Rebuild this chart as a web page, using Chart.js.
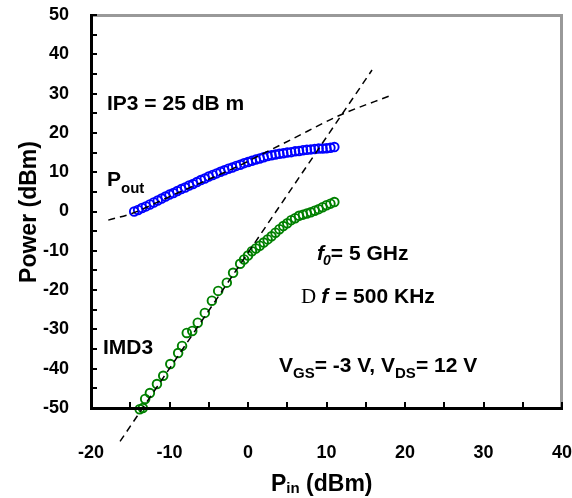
<!DOCTYPE html>
<html>
<head>
<meta charset="utf-8">
<script src="https://cdn.jsdelivr.net/npm/chart.js@4"></script>
<style>
  body { margin: 0; background: #fff; }
  canvas { display: block; }
</style>
</head>
<body>
<canvas id="ip3Chart" width="572" height="498"></canvas>
<script>
/* --------------- Data --------------------------------------- */
const poutPin = [-14.5, -14, -13.5, -13, -12.5, -12, -11.5, -11, -10.5, -10, -9.5, -9, -8.5, -8, -7.5, -7,
  -6.5, -6, -5.5, -5, -4.5, -4, -3.5, -3, -2.5, -2, -1.5, -1, -0.5, 0, 0.5, 1, 1.5, 2, 2.5, 3, 3.5, 4,
  4.5, 5, 5.5, 6, 6.5, 7, 7.5, 8, 8.5, 9, 9.5, 10, 10.5, 11];
const poutVal = [0.0, 0.4, 0.9, 1.3, 1.8, 2.3, 2.8, 3.3, 3.8, 4.3, 4.7, 5.2, 5.7, 6.1, 6.6, 7.0,
  7.5, 8.0, 8.4, 8.9, 9.3, 9.7, 10.1, 10.5, 10.9, 11.2, 11.6, 11.9, 12.3, 12.6, 12.9, 13.2, 13.5, 13.8, 14.1, 14.3, 14.5, 14.7,
  14.8, 15.0, 15.1, 15.3, 15.4, 15.6, 15.7, 15.8, 15.9, 16.0, 16.0, 16.1, 16.2, 16.4];

const imdPin = [-13.8, -13.4, -13.1, -12.5, -11.6, -10.8, -9.9, -8.9, -8.4, -7.8, -7.1, -6.4, -5.5, -4.6,
  -3.8, -2.7, -1.9, -1.0, -0.5, 0, 0.5, 1, 1.5, 2, 2.5, 3, 3.5, 4, 4.5, 5, 5.5, 6, 6.5, 7, 7.5, 8,
  8.5, 9, 9.5, 10, 10.5, 11];
const imdVal = [-50.3, -50.0, -47.7, -46.2, -43.9, -41.8, -38.8, -36.0, -34.2, -30.9, -30.4, -28.3, -25.8, -22.7,
  -20.2, -18.1, -15.6, -13.3, -12.2, -11.2, -10.1, -9.4, -8.7, -7.9, -7.1, -6.3, -5.4, -4.5, -3.7, -3.0, -2.2, -1.7, -1.1, -0.8, -0.5, -0.2,
  0.2, 0.6, 1.1, 1.6, 2.0, 2.4];

/* --------------- Dashed fit / extrapolation lines --------------------- */
const fundFitPin = [-17.8, -14.8, -10, -5, -1.4, 2, 5.5, 11.7, 18.3];
const fundFitVal = [-2.2, -0.5, 3.8, 8.2, 11.4, 14.8, 18.3, 24.5, 29.6];
const imdFitPin = [-16.3, 15.8];
const imdFitVal = [-58.5, 36.0];

/* --------------- Axes --------------------- */
const xRange = [-20, 40];
const yRange = [-50, 50];
const xMinorStep = 5;
const yMinorStep = 5;

const toPoints = (xs, ys) => xs.map((x, i) => ({ x: x, y: ys[i] }));

const SANS = '"Liberation Sans", Arial, sans-serif';

/* --------------- Axis frame, inward ticks and labels --------------------- */
const framePlugin = {
  id: "frame",
  afterDraw(chart) {
    const ctx = chart.ctx;
    const a = chart.chartArea;
    const xs = chart.scales.x;
    const ys = chart.scales.y;
    const L = Math.round(a.left), R = Math.round(a.right);
    const T = Math.round(a.top), Bt = Math.round(a.bottom);
    ctx.save();
    ctx.setLineDash([]);

    // top + right border (grey)
    ctx.fillStyle = "#999";
    ctx.fillRect(L, T - 1, R - L + 1, 3);
    ctx.fillRect(R - 2, T - 1, 3, Bt - T + 1);

    // ticks (inward)
    ctx.fillStyle = "#000";
    for (let v = xRange[0]; v <= xRange[1]; v += xMinorStep) {
      const px = Math.round(xs.getPixelForValue(v));
      ctx.fillRect(px - 1, Bt - 6, 2, 6);
    }
    for (let v = yRange[0]; v <= yRange[1]; v += yMinorStep) {
      const py = Math.round(ys.getPixelForValue(v));
      ctx.fillRect(L, py - 1, 6, 2);
    }

    // left + bottom axis (black)
    ctx.fillRect(L - 1, T - 1, 3, Bt - T + 2);
    ctx.fillRect(L - 1, Bt - 1, R - L + 2, 3);

    ctx.textBaseline = "alphabetic";
    ctx.textAlign = "left";

    // run of text pieces: [text, font, dy, extra gap]
    const run = (x, y, parts) => {
      for (const p of parts) {
        ctx.font = p[1];
        ctx.fillText(p[0], x, y + (p[2] || 0));
        x += ctx.measureText(p[0]).width + (p[3] || 0);
      }
    };
    const B = "bold 21px " + SANS;
    const Bs = "bold 15px " + SANS;
    const BI = "italic bold 21px " + SANS;

    run(107, 110, [["IP3 = 25 dB m", B]]);
    run(107, 186, [["P", B], ["out", Bs, 7]]);
    run(103, 354, [["IMD3", B]]);
    run(317, 260, [["f", BI, 0, -1], ["0", "italic bold 14px " + SANS, 5], ["= 5 GHz", B]]);
    run(301, 303, [["D", "21px \"Liberation Serif\", serif", 0, 5], ["f", BI, 0, 1], [" = 500 KHz", B]]);
    run(279, 372, [["V", B], ["GS", Bs, 6], ["= -3 V, V", B], ["DS", Bs, 6], ["= 12 V", B]]);

    // axis titles
    ctx.font = "bold 23px " + SANS;
    ctx.save();
    ctx.translate(36, 212);
    ctx.rotate(-Math.PI / 2);
    ctx.textAlign = "center";
    ctx.fillText("Power (dBm)", 0, 0);
    ctx.restore();
    run(271, 491, [["P", "bold 23px " + SANS], ["in", "bold 15px " + SANS, 2], [" (dBm)", "bold 23px " + SANS]]);

    ctx.restore();
  },
};

/* --------------- Chart --------------------- */
const tickFont = { family: SANS, size: 18, weight: "bold" };

new Chart(document.getElementById("ip3Chart"), {
  type: "scatter",
  data: {
    datasets: [
      {
        label: "Pout fit",
        data: toPoints(fundFitPin, fundFitVal),
        showLine: true,
        borderColor: "#000",
        borderWidth: 1.5,
        borderDash: [7, 5],
        pointRadius: 0,
        cubicInterpolationMode: "monotone",
        clip: false,
      },
      {
        label: "IMD3 fit",
        data: toPoints(imdFitPin, imdFitVal),
        showLine: true,
        borderColor: "#000",
        borderWidth: 1.5,
        borderDash: [7, 5],
        pointRadius: 0,
        clip: false,
      },
      {
        label: "Pout",
        data: toPoints(poutPin, poutVal),
        pointStyle: "circle",
        pointRadius: 4.3,
        borderWidth: 1.9,
        borderColor: "#0000ff",
        backgroundColor: "rgba(0,0,0,0)",
        clip: false,
      },
      {
        label: "IMD3",
        data: toPoints(imdPin, imdVal),
        pointStyle: "circle",
        pointRadius: 4.3,
        borderWidth: 1.9,
        borderColor: "#008000",
        backgroundColor: "rgba(0,0,0,0)",
        clip: false,
      },
    ],
  },
  options: {
    responsive: false,
    animation: false,
    layout: { padding: { top: 15, right: 10, left: 0, bottom: 0 } },
    plugins: {
      legend: { display: false },
      tooltip: { enabled: false },
    },
    scales: {
      x: {
        type: "linear",
        min: xRange[0],
        max: xRange[1],
        afterFit: (s) => { s.height = 90; s.paddingLeft = 0; s.paddingRight = 0; },
        grid: { display: false },
        border: { display: false },
        ticks: { stepSize: 10, color: "#000", font: tickFont, padding: 26, maxRotation: 0 },
      },
      y: {
        type: "linear",
        min: yRange[0],
        max: yRange[1],
        afterFit: (s) => { s.width = 91; s.paddingTop = 0; s.paddingBottom = 0; },
        grid: { display: false },
        border: { display: false },
        ticks: { stepSize: 10, color: "#000", font: tickFont, padding: 14 },
      },
    },
  },
  plugins: [framePlugin],
});
</script>
</body>
</html>
